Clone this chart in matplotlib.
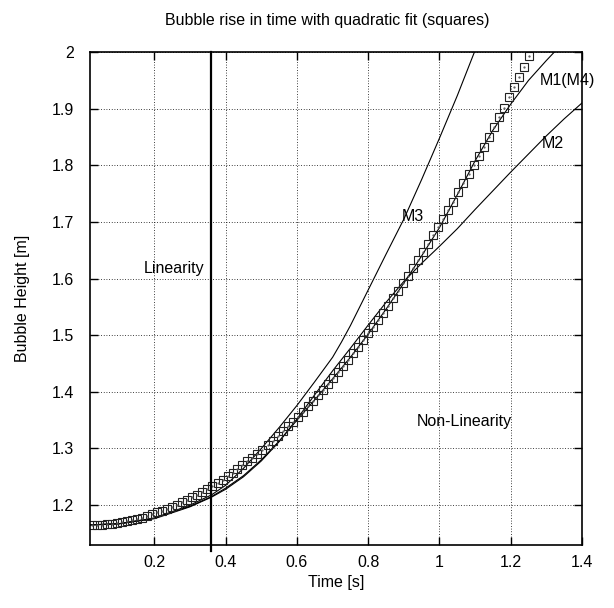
import matplotlib
matplotlib.use('Agg')
import matplotlib.pyplot as plt
from matplotlib.ticker import FuncFormatter

plt.rcParams['font.family'] = ['Liberation Sans', 'DejaVu Sans']
plt.rcParams['font.size'] = 11.5

# quadratic fit (squares)
fit_t = [0.024, 0.038, 0.052, 0.066, 0.080, 0.095, 0.109, 0.123, 0.137, 0.151,
         0.165, 0.179, 0.193, 0.207, 0.221, 0.236, 0.250, 0.264, 0.278, 0.292,
         0.306, 0.320, 0.334, 0.348, 0.362, 0.377, 0.391, 0.405, 0.419, 0.433,
         0.447, 0.461, 0.475, 0.489, 0.503, 0.518, 0.532, 0.546, 0.560, 0.574,
         0.588, 0.602, 0.616, 0.630, 0.644, 0.659, 0.673, 0.687, 0.701, 0.715,
         0.729, 0.743, 0.757, 0.771, 0.785, 0.800, 0.814, 0.828, 0.842, 0.856,
         0.870, 0.884, 0.898, 0.912, 0.926, 0.941, 0.955, 0.969, 0.983, 0.997,
         1.011, 1.025, 1.039, 1.053, 1.067, 1.082, 1.096, 1.110, 1.124, 1.138,
         1.152, 1.166, 1.180, 1.194, 1.208, 1.223, 1.237, 1.251]
fit_h = [1.164, 1.165, 1.165, 1.166, 1.167, 1.169, 1.170, 1.172, 1.174, 1.176,
         1.178, 1.181, 1.184, 1.187, 1.190, 1.193, 1.197, 1.201, 1.205, 1.209,
         1.214, 1.218, 1.223, 1.228, 1.234, 1.239, 1.245, 1.251, 1.257, 1.263,
         1.270, 1.277, 1.284, 1.291, 1.298, 1.306, 1.314, 1.322, 1.330, 1.339,
         1.347, 1.356, 1.365, 1.375, 1.384, 1.394, 1.404, 1.414, 1.424, 1.435,
         1.446, 1.457, 1.468, 1.479, 1.491, 1.503, 1.515, 1.527, 1.540, 1.552,
         1.565, 1.578, 1.592, 1.605, 1.619, 1.633, 1.647, 1.661, 1.676, 1.691,
         1.706, 1.721, 1.736, 1.752, 1.768, 1.784, 1.800, 1.817, 1.833, 1.850,
         1.867, 1.885, 1.902, 1.920, 1.938, 1.956, 1.974, 1.993]

# model curves
m1_t = [0.02, 0.1, 0.2, 0.3, 0.36, 0.4, 0.45, 0.5, 0.55, 0.6, 0.65, 0.7, 0.75,
        0.8, 0.85, 0.9, 0.95, 1.0, 1.05, 1.1, 1.15, 1.2, 1.25, 1.3, 1.33]
m1_h = [1.165, 1.167, 1.177, 1.198, 1.215, 1.230, 1.252, 1.280, 1.313, 1.350,
        1.386, 1.423, 1.461, 1.502, 1.546, 1.592, 1.640, 1.690, 1.748, 1.808,
        1.862, 1.908, 1.950, 1.985, 2.005]

m2_t = [0.02, 0.1, 0.2, 0.3, 0.36, 0.4, 0.45, 0.5, 0.55, 0.6, 0.65, 0.7, 0.75,
        0.8, 0.85, 0.9, 0.95, 1.0, 1.05, 1.1, 1.15, 1.2, 1.25, 1.3, 1.35, 1.4]
m2_h = [1.165, 1.167, 1.176, 1.197, 1.214, 1.228, 1.250, 1.278, 1.312, 1.352,
        1.395, 1.437, 1.477, 1.518, 1.558, 1.595, 1.627, 1.657, 1.688, 1.722,
        1.755, 1.788, 1.820, 1.852, 1.882, 1.910]

m3_t = [0.02, 0.1, 0.2, 0.3, 0.36, 0.4, 0.45, 0.5, 0.55, 0.6, 0.65, 0.7, 0.725,
        0.75, 0.8, 0.85, 0.9, 0.95, 1.0, 1.05, 1.1]
m3_h = [1.165, 1.167, 1.177, 1.200, 1.218, 1.235, 1.265, 1.300, 1.337, 1.376,
        1.418, 1.461, 1.488, 1.517, 1.580, 1.643, 1.705, 1.775, 1.848, 1.923, 2.003]

t_linear = 0.36
x_ticks = [0.2, 0.4, 0.6, 0.8, 1.0, 1.2, 1.4]
y_ticks = [1.2, 1.3, 1.4, 1.5, 1.6, 1.7, 1.8, 1.9, 2.0]

fig = plt.figure(figsize=(6.14, 6.08), dpi=100)
ax = fig.add_axes([90 / 614, 63 / 608, 492 / 614, 493 / 608])

ax.plot(m1_t, m1_h, color='k', lw=0.8)
ax.plot(m2_t, m2_h, color='k', lw=0.8)
ax.plot(m3_t, m3_h, color='k', lw=0.8)
ax.plot(fit_t, fit_h, ls='none', marker='s', ms=6.4, mfc='none', mec='#222222', mew=0.8)
ax.plot(fit_t, fit_h, ls='none', marker='.', ms=1.2, color='#555555')

ax.axvline(t_linear, ymin=-0.012, ymax=1, color='k', lw=1.6, clip_on=False)

ax.text(0.255, 1.617, 'Linearity', ha='center', va='center')
ax.text(1.069, 1.347, 'Non-Linearity', ha='center', va='center')
ax.text(0.924, 1.709, 'M3', ha='center', va='center')
ax.text(1.358, 1.949, 'M1(M4)', ha='center', va='center', clip_on=False)
ax.text(1.317, 1.838, 'M2', ha='center', va='center')

ax.set_xlim(0.019, 1.4)
ax.set_ylim(1.1295, 2.0)
ax.set_xticks(x_ticks)
ax.set_yticks(y_ticks)
ax.xaxis.set_major_formatter(FuncFormatter(lambda v, p: '%g' % v))
ax.yaxis.set_major_formatter(FuncFormatter(lambda v, p: '%g' % v))
ax.tick_params(direction='in', length=6, width=1.0, top=True, right=True)
ax.tick_params(axis='x', pad=7.5)
ax.tick_params(axis='y', pad=11.5)
ax.grid(True, color='k', lw=0.6, ls=(0, (1, 2.2)))
for s in ax.spines.values():
    s.set_linewidth(1.2)

ax.set_xlabel('Time [s]')
ax.set_ylabel('Bubble Height [m]')
ax.xaxis.set_label_coords(0.5, (545 - 582) / 493)
ax.xaxis.label.set_va('center')
ax.yaxis.set_label_coords((22.5 - 90) / 492, 0.5)
ax.yaxis.label.set_va('center')

fig.text(327 / 614, 1 - 20 / 608, 'Bubble rise in time with quadratic fit (squares)',
         ha='center', va='center')

fig.savefig('out.png', dpi=100)
